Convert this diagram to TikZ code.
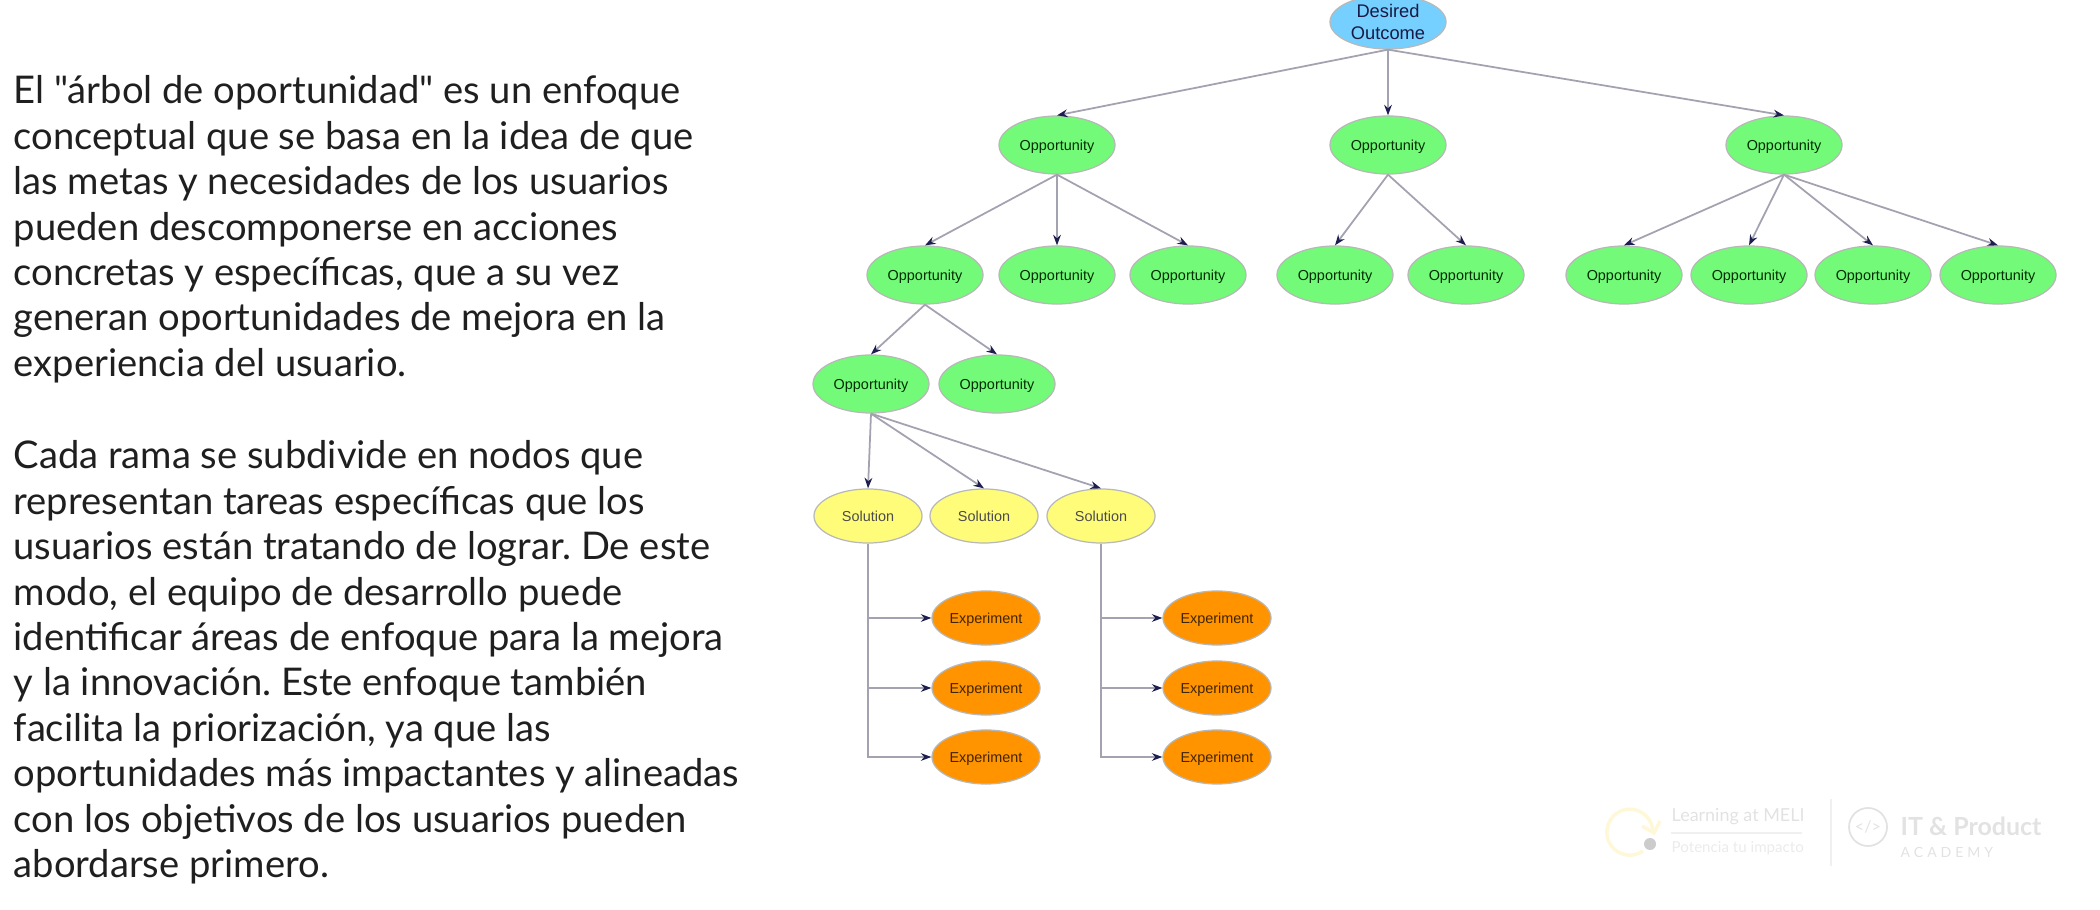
\documentclass[tikz,border=0pt]{standalone}
\usepackage{fontspec}
\setmainfont{Lato}[Ligatures=TeXOff]
\newfontfamily\nodefont{Liberation Sans}
\frenchspacing
\usetikzlibrary{positioning,arrows.meta,shapes.geometric}
\definecolor{treesky}{HTML}{76D0FF}
\definecolor{treegreen}{HTML}{73FA79}
\definecolor{treeyellow}{HTML}{FFFC79}
\definecolor{treeorange}{HTML}{FF9300}
\definecolor{treeline}{HTML}{A2A2B0}
\definecolor{treetip}{HTML}{1E1E50}
\definecolor{markgray}{HTML}{E2E2E2}
\definecolor{markyellow}{HTML}{FFF8D8}
\begin{document}
\begin{tikzpicture}[
  x=0.01cm, y=-0.01cm,
  leaf/.style={ellipse, draw=black!28, line width=0.35pt, inner sep=0pt, align=center,
               font=\nodefont\fontsize{4.1}{5}\selectfont},
  outcome/.style={leaf, fill=treesky, minimum width=1.16cm, minimum height=0.54cm, text=treetip!85!black,
               font=\nodefont\fontsize{5.2}{6}\selectfont},
  opp/.style={leaf, fill=treegreen, minimum width=1.16cm, minimum height=0.58cm, text depth=0pt,
               text=black!70!green!60!black},
  sol/.style={leaf, fill=treeyellow, minimum width=1.08cm, minimum height=0.54cm, text=black!70},
  expt/.style={leaf, fill=treeorange, minimum width=1.08cm, minimum height=0.54cm, text depth=0pt,
               text=black!75!treeorange},
  link/.style={draw=treeline, line width=0.5pt, -{Stealth[length=3pt,width=2.2pt,color=treetip]}},
  para/.style={anchor=north west, align=left, inner sep=0pt, text=black!88,
               font=\fontsize{10.85}{12.92}\selectfont},
  markbig/.style={anchor=west, inner sep=0pt, text=markgray},
]
\clip (0,0) rectangle (2100,910);
% left column
\node[para] (intro) at (13,75) {El "árbol de oportunidad" es un enfoque\\
conceptual que se basa en la idea de que\\
las metas y necesidades de los usuarios\\
pueden descomponerse en acciones\\
concretas y específicas, que a su vez\\
generan oportunidades de mejora en la\\
experiencia del usuario.};
\node[para] (detail) at (13,440) {Cada rama se subdivide en nodos que\\
representan tareas específicas que los\\
usuarios están tratando de lograr. De este\\
modo, el equipo de desarrollo puede\\
identificar áreas de enfoque para la mejora\\
y la innovación. Este enfoque también\\
facilita la priorización, ya que las\\
oportunidades más impactantes y alineadas\\
con los objetivos de los usuarios pueden\\
abordarse primero.};
% tree
\node[outcome] (top) at (1388,22) {Desired\\Outcome};
\foreach \n/\x/\y in {a/1057/145, b/1388/145, c/1784/145,
    a1/925/275, a2/1057/275, a3/1188/275, b1/1335/275, b2/1466/275,
    c1/1624/275, c2/1749/275, c3/1873/275, c4/1998/275, d1/871/384, d2/997/384}
  \node[opp] (\n) at (\x,\y) {Opportunity};
\foreach \n/\x in {s1/868, s2/984, s3/1101}
  \node[sol] (\n) at (\x,516) {Solution};
\foreach \n/\x/\y in {e1/986/618, e2/986/688, e3/986/757, f1/1217/618, f2/1217/688, f3/1217/757}
  \node[expt] (\n) at (\x,\y) {Experiment};
\foreach \p/\c in {top/a, top/b, top/c, a/a1, a/a2, a/a3, b/b1, b/b2,
    c/c1, c/c2, c/c3, c/c4, a1/d1, a1/d2, d1/s1, d1/s2, d1/s3}
  \draw[link] (\p.south) -- (\c.north);
\foreach \p/\c in {s1/e1, s1/e2, s1/e3, s3/f1, s3/f2, s3/f3}
  \draw[link, line width=0.35pt] (\p.south) |- (\c.west);
% logos
\draw[markyellow, line width=1pt] (1643,851) arc (55:355:23);
\draw[markyellow, line width=1pt] (1642,826) -- (1654,833) -- (1660,821);
\fill[black!20] (1650,844) circle (6);
\node[markbig, font=\fontsize{5.1}{6}\selectfont] (learn) at (1671,817) {Learning at MELI};
\node[markbig, font=\fontsize{4.3}{6}\selectfont, text=markgray!70] (impact) at (1671,848) {Potencia tu impacto};
\draw[black!6, line width=0.3pt] (1671,833) -- (1802,833);
\draw[black!6, line width=0.5pt] (1831,799) -- (1831,866);
\node[circle, draw=markgray, line width=0.5pt, minimum size=0.38cm, inner sep=0pt, text=markgray,
      font=\fontsize{4.6}{5}\selectfont] (code) at (1868,827) {</>};
\node[markbig, font=\bfseries\fontsize{7.1}{8}\selectfont] (academy) at (1900,826) {IT \& Product};
\node[markbig, font=\fontsize{4}{5}\selectfont\addfontfeatures{LetterSpace=28}] (academysub) at (1900,852) {ACADEMY};
\end{tikzpicture}
\end{document}
